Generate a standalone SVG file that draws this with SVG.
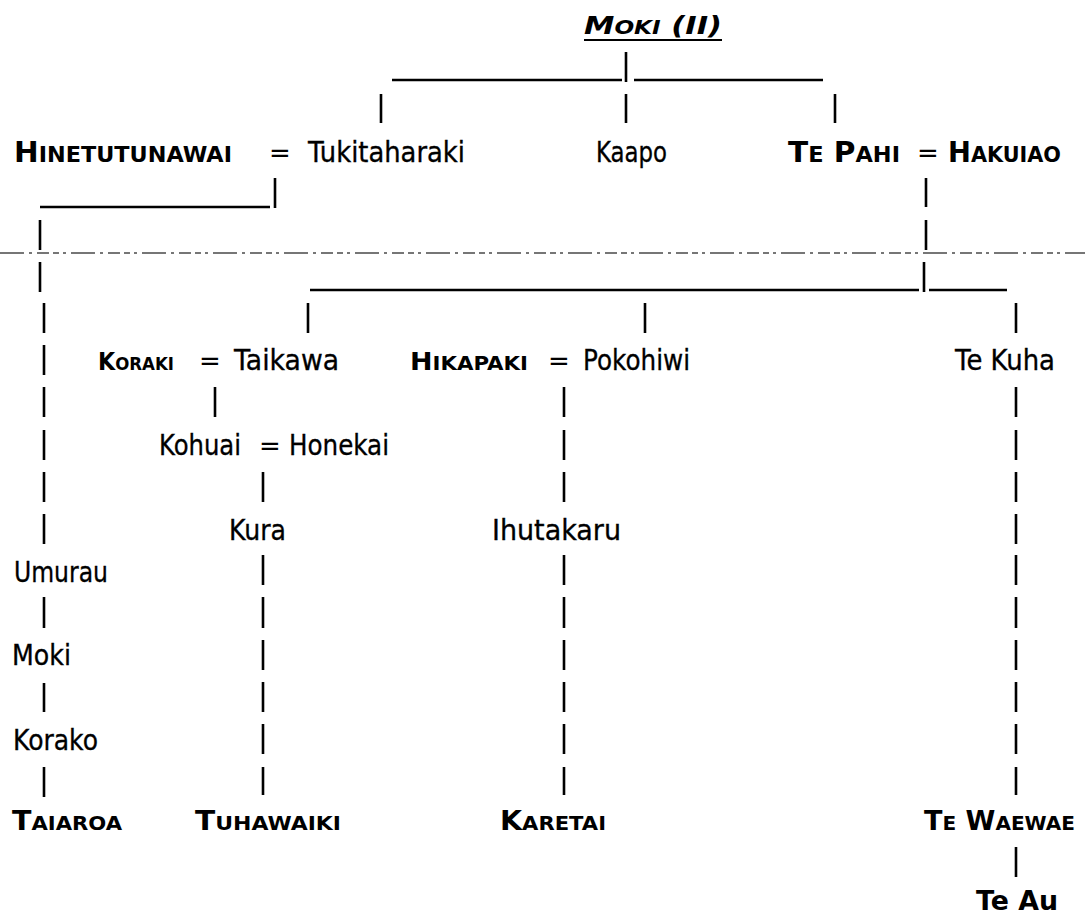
<svg xmlns="http://www.w3.org/2000/svg" width="1085" height="918" viewBox="0 0 1085 918">
<style>
  text { font-family: "DejaVu Sans", "Liberation Sans", sans-serif; fill: #000; }
  .n { font-size: 29px; stroke: #000; stroke-width: 0.35px; }
  .b { font-weight: bold; }
  .b29 { font-size: 29px; }
  .s22 { font-size: 22px; }
  .b27 { font-size: 27px; }
  .s20 { font-size: 20px; }
  .b24 { font-size: 24px; }
  .s18 { font-size: 18px; }
  .s19 { font-size: 19px; }
  .eq { font-size: 26px; text-anchor: middle; }
  .ttl { font-size: 25px; font-weight: bold; font-style: italic; }
  .tsc { font-size: 19px; }
  .ln { stroke: #000; stroke-width: 2.6; fill: none; }
  .brk { stroke: #4a4a4a; stroke-width: 1.3; fill: none; stroke-dasharray: 24 5 3 5 12 4 6 4 3 5; }
</style>
<rect x="0" y="0" width="1085" height="918" fill="#fff"/>

<g id="page-break">
  <path class="brk" d="M0 253 H1085"/>
</g>

<g id="connectors">
  <path class="ln" d="M392 80 H622 M634 80 H823 M626 52 V82 M381 94 V123 M626 94 V123 M835 94 V123"/>
  <path class="ln" d="M275 178 V208 M40 207 H270 M40 220 V250 M40 262 V292"/>
  <path class="ln" d="M44 303 V333 M44 345 V375 M44 387 V417 M44 430 V460 M44 472 V502 M44 514 V544 M44 597 V628 M44 683 V712 M44 767 V797"/>
  <path class="ln" d="M926 178 V207 M926 220 V250 M924 262 V292 M310 290 H919 M929 290 H1007"/>
  <path class="ln" d="M308 303 V333 M645 303 V333 M1016 303 V333"/>
  <path class="ln" d="M215 387 V417"/>
  <path class="ln" d="M263 472 V502 M263 555 V585 M263 597 V628 M263 640 V670 M263 682 V712 M263 724 V754 M263 767 V795"/>
  <path class="ln" d="M564 387 V417 M564 430 V460 M564 472 V502 M564 555 V585 M564 597 V628 M564 640 V670 M564 682 V712 M564 724 V754 M564 767 V795"/>
  <path class="ln" d="M1016 387 V417 M1016 430 V460 M1016 472 V502 M1016 514 V544 M1016 555 V585 M1016 597 V628 M1016 640 V670 M1016 682 V712 M1016 724 V754 M1016 767 V795 M1016 847 V877"/>
</g>

<g id="marriages">
  <text class="eq" x="280" y="162">=</text>
  <text class="eq" x="928" y="162">=</text>
  <text class="eq" x="210" y="370">=</text>
  <text class="eq" x="559" y="370">=</text>
  <text class="eq" x="270" y="455">=</text>
</g>

<g id="node-moki-ii">
  <text class="ttl" x="584" y="34" textLength="138" lengthAdjust="spacingAndGlyphs">M<tspan class="tsc">OKI</tspan> (II)</text>
  <path class="ln" d="M584 40 H722" style="stroke-width:2"/>
</g>
<g id="node-hinetutunawai"><text class="b b29" x="14" y="162" textLength="218" lengthAdjust="spacingAndGlyphs">H<tspan class="s22">INETUTUNAWAI</tspan></text></g>
<g id="node-tukitaharaki"><text class="n" x="308" y="162" textLength="157" lengthAdjust="spacingAndGlyphs">Tukitaharaki</text></g>
<g id="node-kaapo"><text class="n" x="596" y="162" textLength="71" lengthAdjust="spacingAndGlyphs">Kaapo</text></g>
<g id="node-te-pahi"><text class="b b29" x="788" y="162" textLength="112" lengthAdjust="spacingAndGlyphs">T<tspan class="s22">E</tspan> P<tspan class="s22">AHI</tspan></text></g>
<g id="node-hakuiao"><text class="b b29" x="948" y="162" textLength="113" lengthAdjust="spacingAndGlyphs">H<tspan class="s22">AKUIAO</tspan></text></g>

<g id="node-koraki"><text class="b b24" x="98" y="370" textLength="76" lengthAdjust="spacingAndGlyphs">K<tspan class="s18">ORAKI</tspan></text></g>
<g id="node-taikawa"><text class="n" x="234" y="370" textLength="105" lengthAdjust="spacingAndGlyphs">Taikawa</text></g>
<g id="node-hikapaki"><text class="b b24" x="410" y="370" textLength="118" lengthAdjust="spacingAndGlyphs">H<tspan class="s19">IKAPAKI</tspan></text></g>
<g id="node-pokohiwi"><text class="n" x="583" y="370" textLength="107" lengthAdjust="spacingAndGlyphs">Pokohiwi</text></g>
<g id="node-te-kuha"><text class="n" x="955" y="370" textLength="100" lengthAdjust="spacingAndGlyphs">Te Kuha</text></g>

<g id="node-kohuai"><text class="n" x="159" y="455" textLength="82" lengthAdjust="spacingAndGlyphs">Kohuai</text></g>
<g id="node-honekai"><text class="n" x="289" y="455" textLength="100" lengthAdjust="spacingAndGlyphs">Honekai</text></g>

<g id="node-kura"><text class="n" x="229" y="540" textLength="57" lengthAdjust="spacingAndGlyphs">Kura</text></g>
<g id="node-ihutakaru"><text class="n" x="492" y="540" textLength="129" lengthAdjust="spacingAndGlyphs">Ihutakaru</text></g>
<g id="node-umurau"><text class="n" x="14" y="582" textLength="94" lengthAdjust="spacingAndGlyphs">Umurau</text></g>
<g id="node-moki"><text class="n" x="12" y="665" textLength="59" lengthAdjust="spacingAndGlyphs">Moki</text></g>
<g id="node-korako"><text class="n" x="13" y="750" textLength="85" lengthAdjust="spacingAndGlyphs">Korako</text></g>

<g id="node-taiaroa"><text class="b b27" x="12" y="830" textLength="110" lengthAdjust="spacingAndGlyphs">T<tspan class="s20">AIAROA</tspan></text></g>
<g id="node-tuhawaiki"><text class="b b27" x="195" y="830" textLength="146" lengthAdjust="spacingAndGlyphs">T<tspan class="s20">UHAWAIKI</tspan></text></g>
<g id="node-karetai"><text class="b b27" x="500" y="830" textLength="106" lengthAdjust="spacingAndGlyphs">K<tspan class="s20">ARETAI</tspan></text></g>
<g id="node-te-waewae"><text class="b b27" x="924" y="830" textLength="151" lengthAdjust="spacingAndGlyphs">T<tspan class="s20">E</tspan> W<tspan class="s20">AEWAE</tspan></text></g>
<g id="node-te-au"><text class="b b27" x="976" y="910" textLength="82" lengthAdjust="spacingAndGlyphs">Te Au</text></g>
</svg>
